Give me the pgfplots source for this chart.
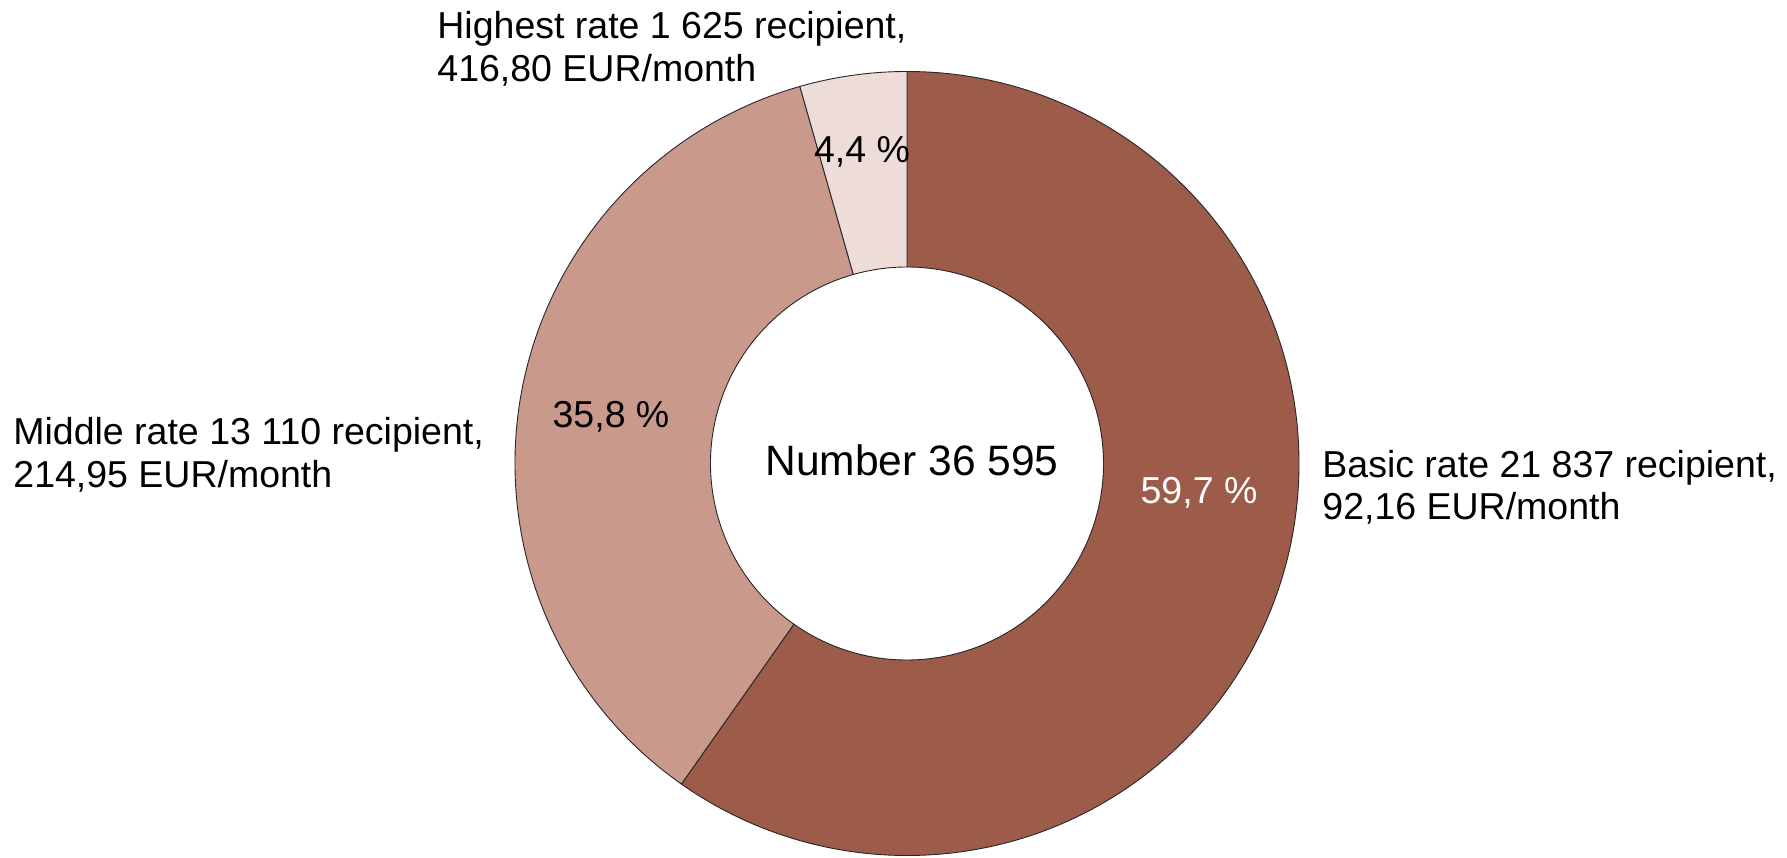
\documentclass[border=0pt]{standalone}
\usepackage{pgfplots}
\pgfplotsset{compat=1.18}
\usepackage{pgfplotstable}
\usepackage{fontspec}
\setmainfont{Liberation Sans}
\definecolor{cBasic}{RGB}{157,91,74}
\definecolor{cMiddle}{RGB}{201,154,140}
\definecolor{cHigh}{RGB}{238,220,216}

\pgfplotstableread{
name count pct
Basic 21837 59.7
Middle 13110 35.8
Highest 1625 4.4
}\donut

\begin{document}
\begin{tikzpicture}
\pgfplotstablegetelem{0}{pct}\of\donut \let\kA\pgfplotsretval
\pgfplotstablegetelem{1}{pct}\of\donut \let\kB\pgfplotsretval
\pgfplotstablegetelem{2}{pct}\of\donut \let\kC\pgfplotsretval
\pgfmathsetmacro{\tot}{\kA+\kB+\kC}
\pgfmathsetmacro{\fA}{\kA/\tot}
\pgfmathsetmacro{\fB}{\kB/\tot}
\pgfmathsetmacro{\aO}{90}
\pgfmathsetmacro{\aA}{90-360*\fA}
\pgfmathsetmacro{\aB}{\aA-360*\fB}
\pgfmathsetmacro{\aC}{-270}
\def\Ro{196pt}
\def\Ri{98.25pt}
\begin{axis}[x=0.5pt,y=0.5pt,xmin=0,xmax=1787,ymin=0,ymax=857,
  hide axis,clip=false,axis line style={draw=none}]
\path (axis cs:0,0) rectangle (axis cs:1787,857);
\addplot[draw=none,mark=none,forget plot] coordinates {(907,393.5)};
% sectors
\filldraw[fill=cBasic,draw=black!85,line width=0.45pt]
  ([shift={(\aO:\Ro)}]axis cs:907,393.5) arc[start angle=\aO,end angle=\aA,radius=\Ro]
  -- ([shift={(\aA:\Ri)}]axis cs:907,393.5) arc[start angle=\aA,end angle=\aO,radius=\Ri] -- cycle;
\filldraw[fill=cMiddle,draw=black!85,line width=0.45pt]
  ([shift={(\aA:\Ro)}]axis cs:907,393.5) arc[start angle=\aA,end angle=\aB,radius=\Ro]
  -- ([shift={(\aB:\Ri)}]axis cs:907,393.5) arc[start angle=\aB,end angle=\aA,radius=\Ri] -- cycle;
\filldraw[fill=cHigh,draw=black!85,line width=0.45pt]
  ([shift={(\aB:\Ro)}]axis cs:907,393.5) arc[start angle=\aB,end angle=\aC,radius=\Ro]
  -- ([shift={(\aC:\Ri)}]axis cs:907,393.5) arc[start angle=\aC,end angle=\aB,radius=\Ri] -- cycle;
% labels
\tikzset{lab/.style={font=\fontsize{18.75}{22}\selectfont,inner sep=0pt}}
\node[lab,anchor=base west] at (axis cs:437,818) {Highest rate 1 625 recipient,};
\node[lab,anchor=base west] at (axis cs:437,775) {416,80 EUR/month};
\node[lab,anchor=base west] at (axis cs:13,412) {Middle rate 13 110 recipient,};
\node[lab,anchor=base west] at (axis cs:13,369) {214,95 EUR/month};
\node[lab,anchor=base west] at (axis cs:1322,379) {Basic rate 21 837 recipient,};
\node[lab,anchor=base west] at (axis cs:1322,337) {92,16 EUR/month};
\node[lab,anchor=base] at (axis cs:862,694) {4,4 \%};
\node[lab,anchor=base] at (axis cs:611,429.5) {35,8 \%};
\node[lab,anchor=base,text=white] at (axis cs:1199,353) {59,7 \%};
\node[font=\fontsize{21.25}{25}\selectfont,inner sep=0pt,anchor=base] at (axis cs:912,381) {Number 36 595};
\end{axis}
\end{tikzpicture}
\end{document}
